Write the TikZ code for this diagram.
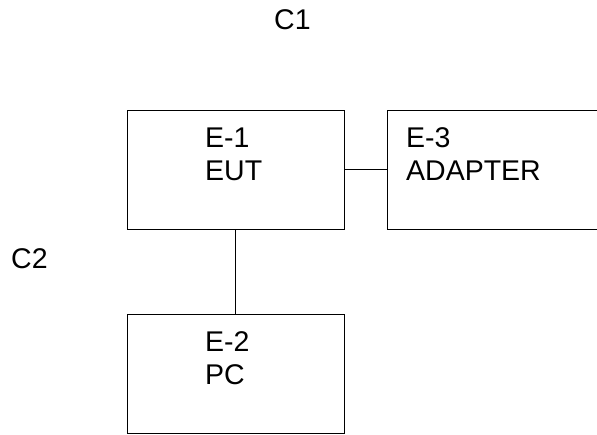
\documentclass[tikz,border=0pt]{standalone}
\usepackage{fontspec}
\setmainfont{Liberation Sans}
\usetikzlibrary{positioning}
\tikzset{
  unitbox/.style={
    rectangle, draw=black, line width=1pt, fill=none,
    inner sep=0pt, anchor=north west
  },
  unitlabel/.style={
    inner sep=0pt, anchor=north west, align=left,
    font=\fontsize{28.5}{33}\selectfont
  },
  cablelabel/.style={
    inner sep=0pt, anchor=base west,
    font=\fontsize{28.5}{33}\selectfont
  },
  cable/.style={draw=black, line width=1pt}
}
\begin{document}
\begin{tikzpicture}[x=1pt, y=-1pt]
\useasboundingbox (0,0) rectangle (597,434);

\node[unitbox, minimum width=216.5pt, minimum height=119.5pt] (eut) at (127,109.5) {};
\node[unitbox, minimum width=230pt, minimum height=119.5pt] (adapter) at (387,109.5) {};
\node[unitbox, minimum width=216.5pt, minimum height=119pt] (pc) at (127,314) {};

\node[unitlabel] (eutlbl) at (205,127.6) {E-1\\EUT};
\node[unitlabel] (adapterlbl) at (406,127.6) {E-3\\ADAPTER};
\node[unitlabel] (pclbl) at (205,331.6) {E-2\\PC};

\node[cablelabel] (cone) at (274,29) {C1};
\node[cablelabel] (ctwo) at (11,268) {C2};

\draw[cable] (eut.east) -- (adapter.west);
\draw[cable] (eut.south) -- (pc.north);

\end{tikzpicture}
\end{document}
